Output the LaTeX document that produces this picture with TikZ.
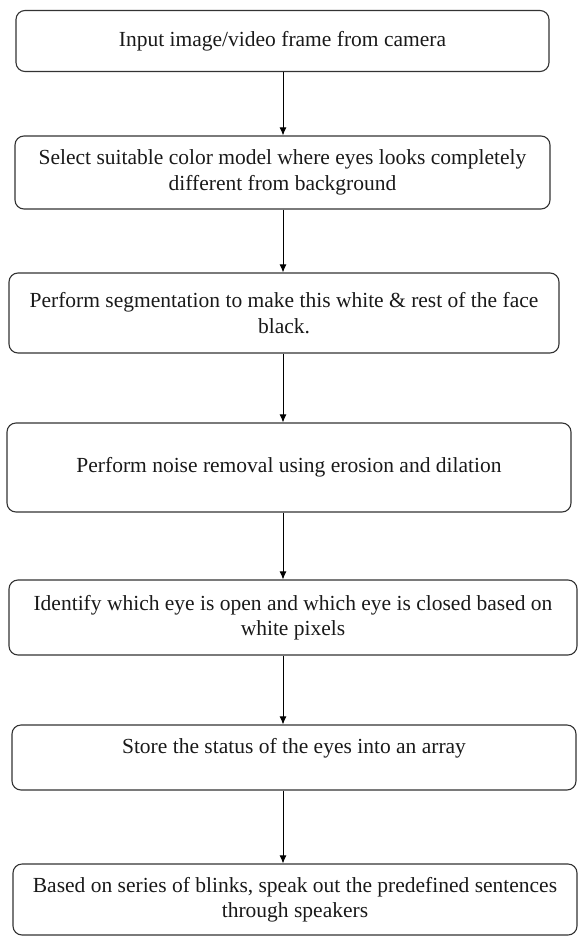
\documentclass[tikz,border=0pt]{standalone}
\usepackage{fontspec}
\setmainfont{Liberation Serif}
\usetikzlibrary{arrows.meta}

\tikzset{
	stepbox/.style={draw=black!80, line width=1.1pt, rounded corners=9pt, inner sep=0pt, align=center, text=black!90, font=\fontsize{21.5}{25.5}\selectfont},
}

\begin{document}
\begin{tikzpicture}[x=1pt,y=-1pt,>={Latex[length=8pt,width=7pt]}]
	\useasboundingbox (0,0) rectangle (580,937);
	
	% Steps
	\node[stepbox, minimum width=533pt, minimum height=61pt] (input) at (282.5,41) {Input image/video frame from camera};
	\node[stepbox, minimum width=535pt, minimum height=73pt] (colour) at (282.5,172.5) {Select suitable color model where eyes looks completely\\different from background};
	\node[stepbox, minimum width=550pt, minimum height=80pt] (segment) at (284,313) {Perform segmentation to make this white \& rest of the face\\black.};
	\node[stepbox, minimum width=564pt, minimum height=89pt] (noise) at (289,467.5) {Perform noise removal using erosion and dilation};
	\node[stepbox, minimum width=568pt, minimum height=75pt] (state) at (293,617.5) {Identify which eye is open and which eye is closed based on\\white pixels};
	\node[stepbox, minimum width=564pt, minimum height=65pt, text depth=22.5pt] (store) at (294,757.5) {Store the status of the eyes into an array};
	\node[stepbox, minimum width=564pt, minimum height=71pt] (speak) at (295,899.5) {Based on series of blinks, speak out the predefined sentences\\through speakers};
	
	% Arrows
	\coordinate (axis) at (283,0);
	\foreach \a/\b in {input/colour,colour/segment,segment/noise,noise/state,state/store,store/speak}
		\draw[->,line width=1pt] (\a.south -| axis) -- (\b.north -| axis);
	
\end{tikzpicture}
\end{document}
